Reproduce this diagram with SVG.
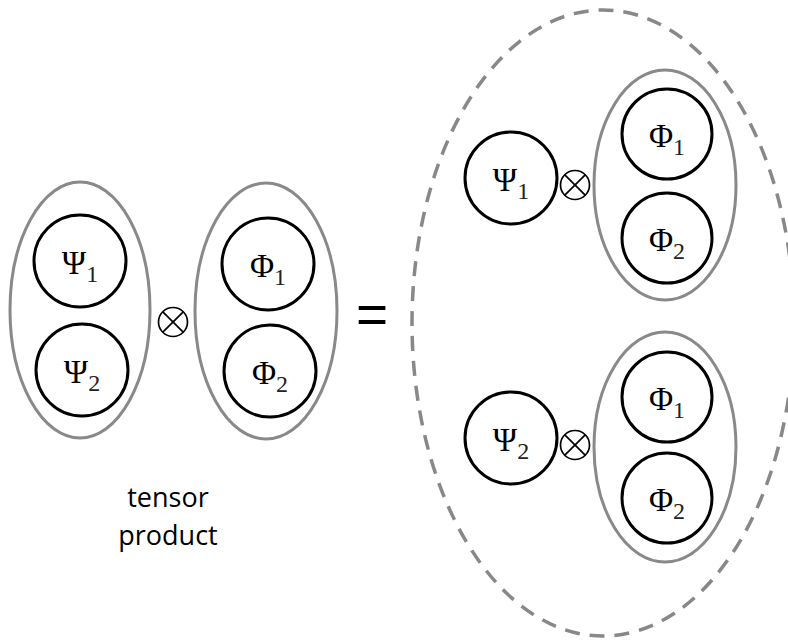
<svg xmlns="http://www.w3.org/2000/svg" width="788" height="640" viewBox="0 0 788 640">
  <style>
    .state { fill: #fff; stroke: #000; stroke-width: 3; }
    .group { fill: none; stroke: #898989; stroke-width: 3; }
    .span { fill: none; stroke: #888; stroke-width: 3.5; stroke-dasharray: 15 10; }
    .sym { font-family: "Liberation Serif", "Times New Roman", serif; font-size: 33px; fill: #000; text-anchor: middle; }
    .sub { font-size: 24px; fill: #222; }
    .otimes circle { fill: #fff; stroke: #000; stroke-width: 1.7; }
    .otimes line { stroke: #000; stroke-width: 1.7; }
    .label { font-family: "Open Sans", "Liberation Sans", sans-serif; font-size: 27px; fill: #000; text-anchor: middle; }
  </style>
  <defs>
    <g id="otimes-mark" class="otimes">
      <circle cx="0" cy="0" r="14.5"/>
      <line x1="-10.2" y1="-10.2" x2="10.2" y2="10.2"/>
      <line x1="-10.2" y1="10.2" x2="10.2" y2="-10.2"/>
    </g>
  </defs>
  <rect width="788" height="640" fill="#fff"/>

  <!-- left side: (Psi1, Psi2) tensor (Phi1, Phi2) -->
  <g id="psi-set">
    <ellipse class="group" cx="80" cy="310" rx="70" ry="128"/>
  </g>
  <g id="psi1">
    <circle class="state" cx="80" cy="261" r="46"/>
    <text class="sym" x="80" y="274">Ψ<tspan class="sub" dy="8">1</tspan></text>
  </g>
  <g id="psi2">
    <circle class="state" cx="82" cy="370" r="46"/>
    <text class="sym" x="82" y="383">Ψ<tspan class="sub" dy="8">2</tspan></text>
  </g>
  <g id="otimes-left">
    <use href="#otimes-mark" x="173" y="322"/>
  </g>
  <g id="phi-set">
    <ellipse class="group" cx="266" cy="311" rx="71" ry="128"/>
  </g>
  <g id="phi1">
    <circle class="state" cx="268" cy="264" r="46"/>
    <text class="sym" x="268" y="277">Φ<tspan class="sub" dy="8">1</tspan></text>
  </g>
  <g id="phi2">
    <circle class="state" cx="270" cy="371" r="46"/>
    <text class="sym" x="270" y="384">Φ<tspan class="sub" dy="8">2</tspan></text>
  </g>

  <g id="caption">
    <text class="label" x="168" y="507">tensor</text>
    <text class="label" x="168" y="545">product</text>
  </g>

  <g id="equals">
    <text x="372" y="333" font-family="Liberation Sans, Arial, sans-serif" font-size="55" text-anchor="middle" fill="#000">=</text>
  </g>

  <!-- right side: expanded product -->
  <g id="expansion">
    <ellipse class="span" cx="603" cy="323" rx="191" ry="313"/>
  </g>

  <g id="term1-psi1">
    <circle class="state" cx="511" cy="178" r="46"/>
    <text class="sym" x="511" y="191">Ψ<tspan class="sub" dy="8">1</tspan></text>
  </g>
  <g id="term1-otimes">
    <use href="#otimes-mark" x="575" y="185"/>
  </g>
  <g id="term1-phi-set">
    <ellipse class="group" cx="665" cy="185" rx="71" ry="115"/>
  </g>
  <g id="term1-phi1">
    <circle class="state" cx="667" cy="134" r="45"/>
    <text class="sym" x="667" y="147">Φ<tspan class="sub" dy="8">1</tspan></text>
  </g>
  <g id="term1-phi2">
    <circle class="state" cx="667" cy="238" r="45"/>
    <text class="sym" x="667" y="251">Φ<tspan class="sub" dy="8">2</tspan></text>
  </g>

  <g id="term2-psi2">
    <circle class="state" cx="511" cy="438" r="46"/>
    <text class="sym" x="511" y="451">Ψ<tspan class="sub" dy="8">2</tspan></text>
  </g>
  <g id="term2-otimes">
    <use href="#otimes-mark" x="575" y="445"/>
  </g>
  <g id="term2-phi-set">
    <ellipse class="group" cx="665" cy="447" rx="71" ry="115"/>
  </g>
  <g id="term2-phi1">
    <circle class="state" cx="667" cy="397" r="45"/>
    <text class="sym" x="667" y="410">Φ<tspan class="sub" dy="8">1</tspan></text>
  </g>
  <g id="term2-phi2">
    <circle class="state" cx="667" cy="498" r="45"/>
    <text class="sym" x="667" y="511">Φ<tspan class="sub" dy="8">2</tspan></text>
  </g>

  <g id="connectors"></g>
</svg>
